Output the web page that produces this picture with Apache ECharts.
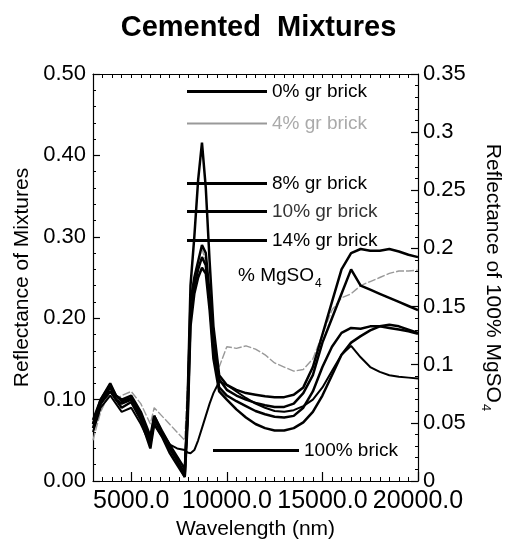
<!DOCTYPE html>
<html><head><meta charset="utf-8">
<script src="https://cdn.jsdelivr.net/npm/echarts@6/dist/echarts.min.js"></script>
<style>html,body{margin:0;padding:0;background:#fff}#c{width:517px;height:552px}</style>
</head><body><div id="c"></div>
<script>
// wavelength grid (nm)
var wavelengths = [3000,3400,3900,4200,4500,5000,5500,6000,6200,6600,7000,7400,7800,7950,8100,8300,8500,8700,8900,9100,9300,9600,10000,10500,11000,11500,12000,12500,13000,13500,14000,14500,15000,15500,16000,16500,17000,17500,18000,18500,19000,19500,20000];
// 0% gr brick (= 100% MgSO4), right axis units
var gr0 = [0.0525,0.070,0.084,0.0735,0.070,0.0735,0.0595,0.0385,0.056,0.042,0.0315,0.0175,0.0035,0.070,0.168,0.210,0.259,0.291,0.252,0.189,0.133,0.091,0.0826,0.0784,0.0756,0.0742,0.0728,0.0721,0.0721,0.0742,0.0805,0.098,0.126,0.154,0.182,0.196,0.1995,0.198,0.198,0.1995,0.1974,0.1946,0.1925];
var gr4 = [0.05,0.085,0.11,0.10,0.105,0.11,0.095,0.07,0.09,0.08,0.07,0.06,0.05,0.12,0.22,0.25,0.27,0.285,0.27,0.22,0.17,0.14,0.165,0.163,0.166,0.162,0.155,0.145,0.14,0.135,0.137,0.15,0.18,0.21,0.225,0.23,0.24,0.245,0.25,0.255,0.258,0.258,0.259];
var gr8 = [0.07,0.095,0.115,0.10,0.095,0.10,0.08,0.05,0.075,0.06,0.04,0.025,0.01,0.09,0.22,0.25,0.27,0.29,0.28,0.23,0.17,0.125,0.112,0.105,0.1,0.096,0.093,0.091,0.091,0.095,0.108,0.13,0.17,0.2,0.23,0.26,0.24,0.235,0.23,0.225,0.22,0.215,0.21];
var gr10 = [0.07,0.1,0.118,0.105,0.098,0.102,0.08,0.045,0.08,0.062,0.045,0.03,0.015,0.08,0.2,0.24,0.26,0.275,0.265,0.22,0.16,0.115,0.105,0.098,0.092,0.086,0.082,0.079,0.078,0.08,0.09,0.11,0.14,0.165,0.182,0.188,0.187,0.19,0.19,0.188,0.186,0.184,0.181];
var gr14 = [0.065,0.095,0.11,0.1,0.09,0.097,0.075,0.04,0.07,0.055,0.035,0.02,0.005,0.07,0.19,0.23,0.25,0.262,0.255,0.21,0.15,0.11,0.1,0.088,0.078,0.07,0.065,0.062,0.062,0.065,0.072,0.085,0.105,0.13,0.155,0.17,0.178,0.185,0.19,0.192,0.19,0.186,0.182];
var brick100 = [0.06,0.09,0.105,0.095,0.085,0.09,0.07,0.045,0.07,0.055,0.045,0.04,0.038,0.035,0.034,0.038,0.05,0.065,0.08,0.095,0.108,0.122,0.118,0.11,0.102,0.095,0.09,0.086,0.085,0.087,0.092,0.1,0.115,0.135,0.155,0.166,0.152,0.14,0.134,0.13,0.128,0.127,0.126];
var xTickLabels = [5000,10000,15000,20000];

var FONT = 'Liberation Sans, Arial, Helvetica, sans-serif';
function pts(arr){ return wavelengths.map(function(w,i){ return [w, arr[i]]; }); }
function legendAt(name, left, top, color, textColor, w, h){
  return {data:[name], left:left, top:top, orient:'horizontal', padding:0, selectedMode:false,
    icon:'rect', itemWidth:w||80, itemHeight:h||3,
    itemStyle:{color:color}, textStyle:{fontFamily:FONT, fontSize:19, color:textColor}};
}
var chart = echarts.init(document.getElementById('c'), null, {renderer:'canvas'});
var grid = {left:93, right:82, top:74, bottom:71};
var axisLineStyle = {color:'#000', width:1.2};
chart.setOption({
  animation:false,
  backgroundColor:'#fff',
  title:{text:'Cemented  Mixtures', left:'center', top:8,
    textStyle:{fontFamily:FONT, fontSize:29, fontWeight:'bold', color:'#000'}},
  grid:grid,
  legend:[
    legendAt('0% gr brick',187,82,'#000','#000'),
    legendAt('4% gr brick',187,114,'#999','#aaa',80,2),
    legendAt('8% gr brick',187,174,'#000','#000'),
    legendAt('10% gr brick',187,202,'#000','#333'),
    legendAt('14% gr brick',187,231,'#000','#000'),
    legendAt('100% brick',213,441,'#000','#000',86,3)
  ],
  graphic:[{type:'text', left:238, top:262, style:{
    text:'{a|% MgSO}{s|4}', fontFamily:FONT,
    rich:{a:{fontSize:19, fontFamily:FONT, fill:'#000', lineHeight:24, verticalAlign:'top'},
          s:{fontSize:12, fontFamily:FONT, fill:'#000', lineHeight:12, padding:[16,0,0,1], verticalAlign:'bottom'}}}}],
  xAxis:[
    {type:'value', min:3000, max:20000, interval:500, position:'bottom',
     axisLine:{show:true, lineStyle:axisLineStyle}, axisTick:{inside:true, length:4, lineStyle:{color:'#000'}},
     axisLabel:{show:false}, splitLine:{show:false}},
    {type:'value', min:3000, max:20000, position:'bottom', gridIndex:0,
     axisLine:{show:false},
     axisTick:{inside:true, length:9, customValues:xTickLabels, lineStyle:{color:'#000', width:1.2}},
     axisLabel:{customValues:xTickLabels, margin:8, fontFamily:FONT, fontSize:25, color:'#000',
       formatter:function(v){return v.toFixed(1);}},
     splitLine:{show:false},
     name:'Wavelength (nm)', nameLocation:'middle', nameGap:37,
     nameTextStyle:{fontFamily:FONT, fontSize:21, color:'#000'}},
    {type:'value', min:3000, max:20000, interval:500, position:'top',
     axisLine:{show:true, lineStyle:axisLineStyle}, axisTick:{inside:true, length:4, lineStyle:{color:'#000'}},
     axisLabel:{show:false}, splitLine:{show:false}}
  ],
  yAxis:[
    {type:'value', min:0, max:0.5, interval:0.1, position:'left',
     axisLine:{show:true, lineStyle:axisLineStyle},
     axisTick:{inside:true, length:7, lineStyle:{color:'#000', width:1.2}},
     minorTick:{show:true, splitNumber:5, length:3, lineStyle:{color:'#000'}},
     axisLabel:{margin:7, fontFamily:FONT, fontSize:22, color:'#000', formatter:function(v){return v.toFixed(2);}},
     splitLine:{show:false},
     name:'Reflectance of Mixtures', nameLocation:'middle', nameGap:57, nameRotate:90,
     nameTextStyle:{fontFamily:FONT, fontSize:21, color:'#000'}},
    {type:'value', min:0, max:0.35, interval:0.05, position:'right',
     axisLine:{show:true, lineStyle:axisLineStyle},
     axisTick:{inside:true, length:7, lineStyle:{color:'#000', width:1.2}},
     minorTick:{show:true, splitNumber:5, length:3, lineStyle:{color:'#000'}},
     axisLabel:{margin:5, fontFamily:FONT, fontSize:22, color:'#000'},
     splitLine:{show:false},
     name:'{a|Reflectance of 100% MgSO}{s|4}', nameLocation:'middle', nameGap:61, nameRotate:-90,
     nameTextStyle:{fontFamily:FONT, color:'#000',
       rich:{a:{fontSize:21, fontFamily:FONT, color:'#000', lineHeight:24, verticalAlign:'top'},
             s:{fontSize:13, fontFamily:FONT, color:'#000', lineHeight:13, padding:[17,0,0,1], verticalAlign:'bottom'}}}}
  ],
  series:[
    {name:'0% gr brick', type:'line', yAxisIndex:1, data:pts(gr0), showSymbol:false, lineStyle:{color:'#000', width:2.5}, itemStyle:{color:'#000'}, z:5},
    {name:'4% gr brick', type:'line', data:pts(gr4), showSymbol:false, lineStyle:{color:'#999', width:1.4, type:[8,2]}, itemStyle:{color:'#999'}, z:3},
    {name:'8% gr brick', type:'line', data:pts(gr8), showSymbol:false, lineStyle:{color:'#000', width:2.5}, itemStyle:{color:'#000'}, z:5},
    {name:'10% gr brick', type:'line', data:pts(gr10), showSymbol:false, lineStyle:{color:'#000', width:2.5}, itemStyle:{color:'#000'}, z:5},
    {name:'14% gr brick', type:'line', data:pts(gr14), showSymbol:false, lineStyle:{color:'#000', width:2.5}, itemStyle:{color:'#000'}, z:5},
    {name:'100% brick', type:'line', data:pts(brick100), showSymbol:false, lineStyle:{color:'#000', width:2}, itemStyle:{color:'#000'}, z:5}
  ]
});
</script></body></html>
